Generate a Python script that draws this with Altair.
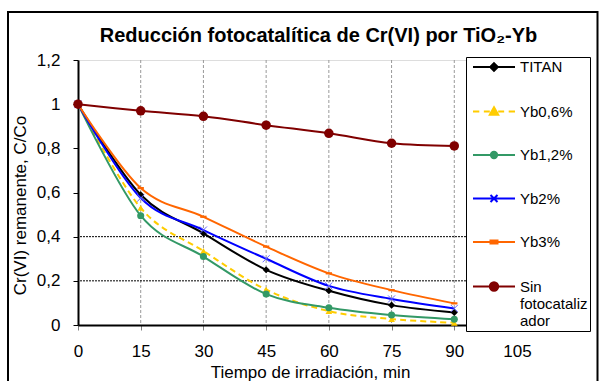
import altair as alt
import pandas as pd

# ---------------- data ----------------
time_min = [0, 15, 30, 45, 60, 75, 90]
series_names = ["TITAN", "Yb0,6%", "Yb1,2%", "Yb2%", "Yb3%", "Sin fotocatalizador"]
titan = [1.0, 0.59, 0.415, 0.25, 0.155, 0.09, 0.057]
yb06 = [1.0, 0.53, 0.335, 0.16, 0.063, 0.027, 0.01]
yb12 = [1.0, 0.495, 0.31, 0.14, 0.078, 0.045, 0.026]
yb2 = [1.0, 0.575, 0.43, 0.30, 0.177, 0.118, 0.075]
yb3 = [1.0, 0.62, 0.49, 0.355, 0.234, 0.158, 0.098]
sin_cat = [1.0, 0.97, 0.945, 0.905, 0.868, 0.823, 0.811]
series_values = [titan, yb06, yb12, yb2, yb3, sin_cat]

x_ticks = [0, 15, 30, 45, 60, 75, 90, 105]
y_ticks = [0, 0.2, 0.4, 0.6, 0.8, 1.0, 1.2]
x_grid = [15, 30, 45, 60, 75, 90]
y_grid = [0.2, 0.4]

# ---------------- styles ----------------
FONT = "Liberation Sans"
line_colors = ["#000000", "#FFCC00", "#339966", "#0000FF", "#FF6600", "#800000"]
marker_colors = ["#000000", "#FFCC00", "#339966", "#6666FF", "#FF6600", "#800000"]
line_dash = [None, [6, 4], None, None, None, None]
marker_shapes = ["diamond", "triangle-up", "circle",
                 "M-1,-1L1,1M-1,1L1,-1", "M-1,-0.35H1V0.35H-1Z", "circle"]
marker_sizes = [50, 45, 50, 50, 40, 90]
marker_filled = [True, True, True, False, True, True]

legend_paths = [
    "M-3,0H3M0,-0.55L0.55,0L0,0.55L-0.55,0Z",
    "M-3,0H-2.1M-1.45,0H-0.6M0.6,0H1.45M2.1,0H3M0,-0.6L0.6,0.45L-0.6,0.45Z",
    "M-3,0H3M-0.45,0A0.45,0.45,0,1,0,0.45,0A0.45,0.45,0,1,0,-0.45,0Z",
    "M-3,0H3M-0.5,-0.5L0.5,0.5M-0.5,0.5L0.5,-0.5",
    "M-3,0H3M-0.5,-0.22H0.5V0.22H-0.5Z",
    "M-3,0H3M-0.6,0A0.6,0.6,0,1,0,0.6,0A0.6,0.6,0,1,0,-0.6,0Z",
]

rows = [{"series": s, "t": t, "v": v}
        for s, vals in zip(series_names, series_values)
        for t, v in zip(time_min, vals)]
df = pd.DataFrame(rows)

X = alt.X("t:Q",
          scale=alt.Scale(domain=[0, 105], nice=False, zero=False),
          axis=alt.Axis(values=x_ticks, title="Tiempo de irradiación, min", grid=False,
                        domainColor="black", domainWidth=2, tickColor="#808080",
                        tickSize=5, tickWidth=1, labelFont=FONT, labelFontSize=17,
                        labelColor="black", labelPadding=13, labelFlush=False,
                        titleFont=FONT, titleFontSize=17, titleFontWeight="normal",
                        titleColor="black", titleX=232, titleY=52,
                        titleBaseline="alphabetic", titleAlign="center"))
Y = alt.Y("v:Q",
          scale=alt.Scale(domain=[0, 1.2], nice=False),
          axis=alt.Axis(values=y_ticks, title="Cr(VI) remanente, C/Co", grid=False,
                        labelExpr="replace(format(datum.value, '.1~f'), '.', ',')",
                        domainColor="black", domainWidth=2, tickColor="black",
                        tickSize=5, tickWidth=1, labelFont=FONT, labelFontSize=17,
                        labelColor="black", labelPadding=13, labelFlush=False,
                        titleFont=FONT, titleFontSize=17, titleFontWeight="normal",
                        titleColor="black", titleX=-53, titleY=145, titleAngle=270,
                        titleBaseline="alphabetic", titleAlign="center"))

layers = []

# gridlines
layers.append(alt.Chart(pd.DataFrame({"t": x_grid})).mark_rule(
    color="#999999", strokeWidth=1, strokeDash=[3, 2]).encode(x=X))
layers.append(alt.Chart(pd.DataFrame({"v": y_grid})).mark_rule(
    color="black", strokeWidth=1, strokeDash=[2, 1]).encode(y=Y))

# series
for i, name in enumerate(series_names):
    sub = alt.Chart(df).transform_filter(alt.datum.series == name)
    lkw = dict(color=line_colors[i], strokeWidth=2, interpolate="cardinal")
    if line_dash[i] is not None:
        lkw["strokeDash"] = line_dash[i]
    layers.append(sub.mark_line(**lkw).encode(x=X, y=Y))
    pkw = dict(shape=marker_shapes[i], size=marker_sizes[i], filled=marker_filled[i],
               color=marker_colors[i], opacity=1)
    if not marker_filled[i]:
        pkw["strokeWidth"] = 1
    layers.append(sub.mark_point(**pkw).encode(x=X, y=Y))

# legend (built by Vega-Lite from an empty layer with explicit domains)
leg_colors = ["#000000", "#FFCC00", "#339966", "#0000FF", "#FF6600", "#800000"]
leg = alt.Legend(orient="none", legendX=388, legendY=-3, direction="vertical",
                 fillColor="white", strokeColor="black", padding=2, cornerRadius=0,
                 symbolSize=196, symbolStrokeWidth=2, symbolOffset=18, symbolOpacity=1,
                 labelOffset=18, rowPadding=27.5, labelFont=FONT, labelFontSize=15,
                 labelColor="black", labelLimit=300, labelBaseline="middle",
                 labelExpr="datum.label == 'Sin fotocatalizador' ? ['Sin', 'fotocataliz', 'ador'] : datum.label")
legend_layer = alt.Chart(df).transform_filter("false").mark_point(
    filled=True, opacity=1, strokeWidth=2).encode(
    x=X, y=Y,
    fill=alt.Fill("series:N", title=None,
                  scale=alt.Scale(domain=series_names, range=leg_colors), legend=leg),
    stroke=alt.Stroke("series:N", title=None,
                      scale=alt.Scale(domain=series_names, range=leg_colors), legend=leg),
    shape=alt.Shape("series:N", title=None,
                    scale=alt.Scale(domain=series_names, range=legend_paths), legend=leg),
)
layers.append(legend_layer)

# outer chart frame
layers.append(alt.Chart(pd.DataFrame({"k": [0]})).mark_rect(
    fillOpacity=0, stroke="black", strokeWidth=2).encode(
    x=alt.value(-70), x2=alt.value(519.5), y=alt.value(-48), y2=alt.value(340)))

chart = alt.layer(*layers).properties(
    width=439, height=265,
    autosize=alt.AutoSizeParams(type="none"),
    padding={"left": 78, "top": 60, "right": 82, "bottom": 56},
    title=alt.TitleParams(text="Reducción fotocatalítica de Cr(VI) por TiO₂-Yb",
                          font=FONT, fontSize=20, fontWeight="bold", color="black",
                          anchor="middle", dx=21, offset=-51, baseline="alphabetic"),
).configure_view(stroke="#808080", strokeWidth=2).configure(background="white")

chart.save("out.html", embed_options={"renderer": "svg", "actions": False})
